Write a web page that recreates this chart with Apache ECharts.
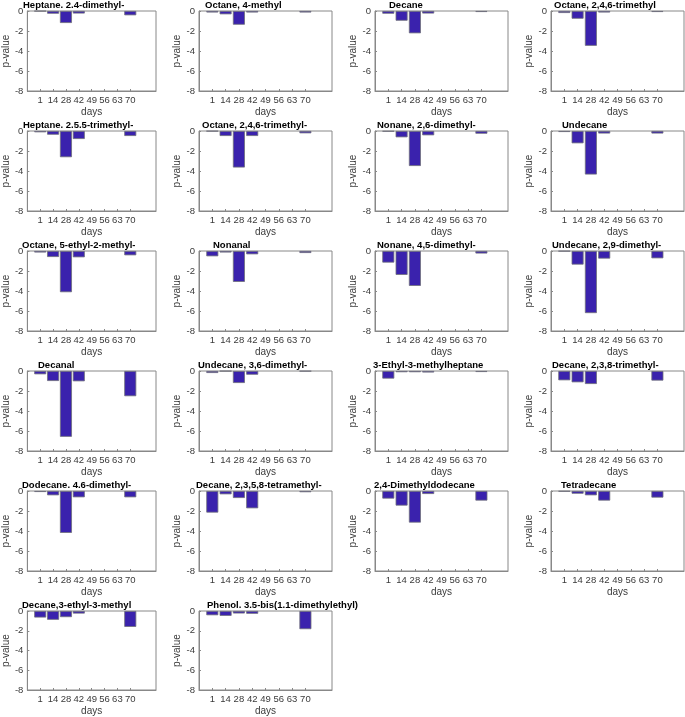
<!DOCTYPE html>
<html>
<head>
<meta charset="utf-8">
<script src="https://cdn.jsdelivr.net/npm/echarts@6/dist/echarts.min.js"></script>
<style>
html,body{margin:0;padding:0;background:#fff;}
#chart{width:685px;height:717px;}
</style>
</head>
<body>
<div id="chart"></div>
<script>
// ---- data ----
const dayLabels = ['1','14','28','42','49','56','63','70'];
const yTicks = [-8,-6,-4,-2,0];

const compoundNames = [
  'Heptane. 2.4-dimethyl-','Octane, 4-methyl','Decane','Octane, 2,4,6-trimethyl',
  'Heptane. 2.5.5-trimethyl-','Octane, 2,4,6-trimethyl-','Nonane, 2,6-dimethyl-','Undecane',
  'Octane, 5-ethyl-2-methyl-','Nonanal','Nonane, 4,5-dimethyl-','Undecane, 2,9-dimethyl-',
  'Decanal','Undecane, 3,6-dimethyl-','3-Ethyl-3-methylheptane','Decane, 2,3,8-trimethyl-',
  'Dodecane. 4.6-dimethyl-','Decane, 2,3,5,8-tetramethyl-','2,4-Dimethyldodecane','Tetradecane',
  'Decane,3-ethyl-3-methyl','Phenol. 3.5-bis(1.1-dimethylethyl)'
];

const heptane24dimethyl   = [-0.02,-0.27,-1.20,-0.25,0,0,0,-0.43];
const octane4methyl       = [-0.15,-0.33,-1.37,-0.15,0,0,0,-0.15];
const decane              = [-0.27,-0.97,-2.23,-0.25,0,0,0,-0.10];
const octane246trimethyl  = [-0.20,-0.77,-3.48,-0.15,0,0,0,-0.10];
const heptane255trimethyl = [-0.13,-0.37,-2.62,-0.80,0,0,0,-0.50];
const octane246trimethylB = [-0.03,-0.50,-3.65,-0.50,0,0,0,-0.23];
const nonane26dimethyl    = [-0.05,-0.63,-3.50,-0.43,0,0,0,-0.27];
const undecane            = [-0.10,-1.23,-4.35,-0.25,0,0,0,-0.25];
const octane5ethyl2methyl = [-0.15,-0.60,-4.12,-0.63,0,0,0,-0.43];
const nonanal             = [-0.53,-0.15,-3.09,-0.33,0,0,0,-0.20];
const nonane45dimethyl    = [-1.16,-2.39,-3.49,0,0,0,0,-0.25];
const undecane29dimethyl  = [-0.03,-1.36,-6.21,-0.76,0,0,0,-0.73];
const decanal             = [-0.33,-1.00,-6.58,-1.03,0,0,0,-2.52];
const undecane36dimethyl  = [-0.20,-0.02,-1.20,-0.37,0,0,0,-0.03];
const ethylmethylheptane  = [-0.76,-0.12,-0.12,-0.15,0,0,0,-0.10];
const decane238trimethyl  = [-0.93,-1.13,-1.30,0,0,0,0,-0.96];
const dodecane46dimethyl  = [-0.10,-0.43,-4.19,-0.63,0,0,0,-0.63];
const decane2358tetramethyl = [-2.16,-0.33,-0.70,-1.73,0,0,0,-0.12];
const dimethyldodecane24  = [-0.76,-1.46,-3.16,-0.30,0,0,0,-0.96];
const tetradecane         = [-0.05,-0.27,-0.43,-0.96,0,0,0,-0.66];
const decane3ethyl3methyl = [-0.66,-0.89,-0.62,-0.26,0,0,0,-1.61];
const phenolBis           = [-0.43,-0.49,-0.25,-0.28,0,0,0,-1.84];

const panelValues = [
  heptane24dimethyl, octane4methyl, decane, octane246trimethyl,
  heptane255trimethyl, octane246trimethylB, nonane26dimethyl, undecane,
  octane5ethyl2methyl, nonanal, nonane45dimethyl, undecane29dimethyl,
  decanal, undecane36dimethyl, ethylmethylheptane, decane238trimethyl,
  dodecane46dimethyl, decane2358tetramethyl, dimethyldodecane24, tetradecane,
  decane3ethyl3methyl, phenolBis
];

// ---- layout (not data) ----
const colLeft = [23, 199, 375, 551];
const rowTop = [11, 131, 251, 371, 491, 611];
const plotW = 133, plotH = 80;
const titleOffset = [0,6,14,3, 0,3,2,11, -1,14,2,1, 15,-1,-2,1, -1,-3,-1,10, -1,8];

const FONT = '"Liberation Sans", Arial, Helvetica, sans-serif';
const barColor = '#3a22ad';
const axisColor = '#888888';
const textColor = '#3a3a3a';

const grids = [], xAxes = [], yAxes = [], series = [], titles = [];
panelValues.forEach((vals, i) => {
  const r = Math.floor(i / 4), c = i % 4;
  const left = colLeft[c], top = rowTop[r];
  grids.push({left: left, top: top, width: plotW, height: plotH, show: true,
    borderColor: axisColor, borderWidth: 1, backgroundColor: '#fff', containLabel: false});
  xAxes.push({
    type: 'value', gridIndex: i, min: 0, max: dayLabels.length + 2, interval: 1,
    position: 'bottom',
    name: 'days', nameLocation: 'middle', nameGap: 16,
    nameTextStyle: {fontFamily: FONT, fontSize: 10, color: textColor},
    axisLine: {show: true, onZero: false, lineStyle: {color: axisColor, width: 1}},
    axisTick: {show: true, inside: true, length: 2, lineStyle: {color: axisColor},
      customValues: dayLabels.map((d, k) => k + 1)},
    axisLabel: {show: true, fontFamily: FONT, fontSize: 9.5, color: textColor, margin: 4,
      customValues: dayLabels.map((d, k) => k + 1),
      formatter: v => dayLabels[Math.round(v) - 1] || ''},
    splitLine: {show: false}
  });
  yAxes.push({
    type: 'value', gridIndex: i, min: yTicks[0], max: yTicks[yTicks.length - 1], interval: 2,
    name: 'p-value', nameLocation: 'middle', nameGap: 10, nameRotate: 90,
    nameTextStyle: {fontFamily: FONT, fontSize: 10, color: textColor},
    axisLine: {show: true, onZero: false, lineStyle: {color: axisColor, width: 1}},
    axisTick: {show: true, inside: true, length: 2, lineStyle: {color: axisColor}},
    axisLabel: {show: true, fontFamily: FONT, fontSize: 9.5, color: textColor, margin: 4},
    splitLine: {show: false}
  });
  series.push({
    type: 'bar', xAxisIndex: i, yAxisIndex: i, barWidth: 12,
    data: vals.map((v, k) => (v === 0 ? [k + 1, '-'] : [k + 1, v])),
    itemStyle: {color: barColor, borderColor: '#6f6f7a', borderWidth: 0.8},
    silent: true, animation: false
  });
  titles.push({
    text: compoundNames[i], left: left + titleOffset[i], top: top - 11, padding: 0,
    textStyle: {fontFamily: FONT, fontSize: 9.5, fontWeight: 'bold', color: '#000'}
  });
});

const chart = echarts.init(document.getElementById('chart'), null, {renderer: 'canvas'});
chart.setOption({
  animation: false,
  backgroundColor: '#fff',
  title: titles,
  grid: grids,
  xAxis: xAxes,
  yAxis: yAxes,
  series: series
});
</script>
</body>
</html>
